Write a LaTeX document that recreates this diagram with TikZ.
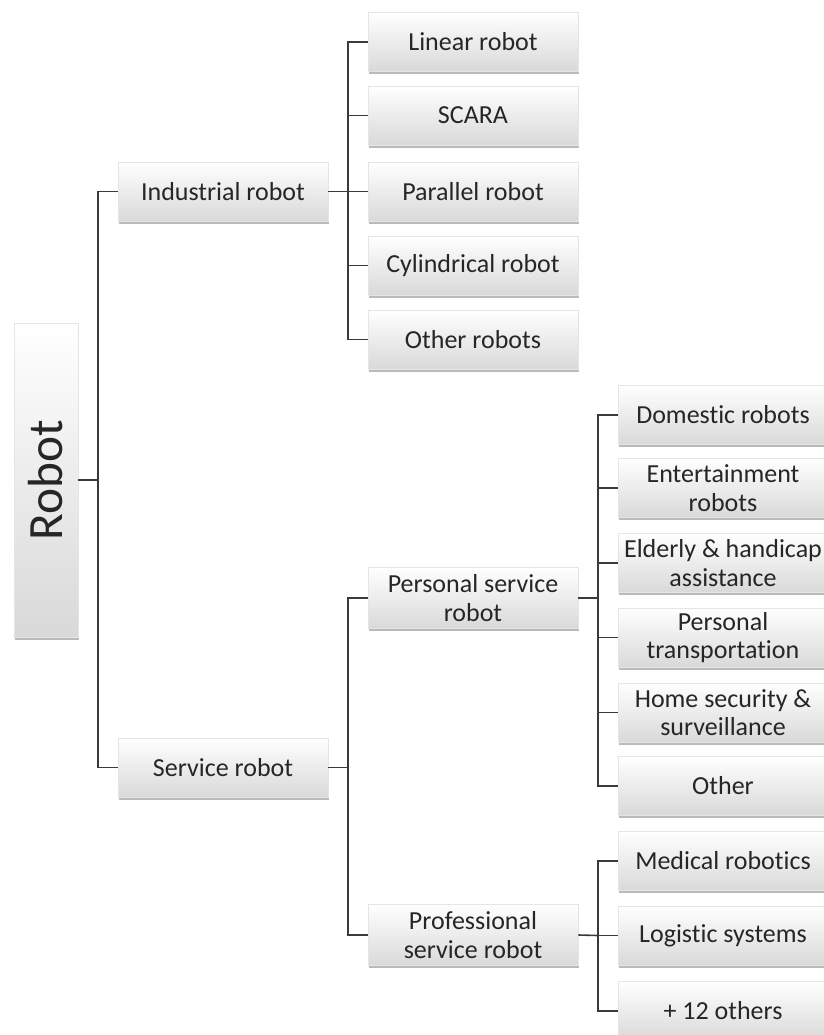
\documentclass[tikz,border=0pt]{standalone}
\usepackage{fontspec}
\setmainfont{Carlito}[Ligatures=NoCommon]
\usepackage{graphicx}
\usetikzlibrary{positioning}
\usetikzlibrary{shadows,calc}
\definecolor{linegray}{HTML}{3A3A3A}
\definecolor{textgray}{HTML}{262626}
\tikzstyle{box} = [rectangle, minimum width=157.5pt, minimum height=44.5pt, align=center, inner sep=1pt, draw=gray!20, top color=white, bottom color=black!15, text=textgray, font=\fontsize{19.5}{21.5}\selectfont, drop shadow={shadow xshift=0.4pt, shadow yshift=-2pt, opacity=0.45, fill=black!60}]
\tikzstyle{link} = [draw=linegray, line width=1.2pt]

\begin{document}
\begin{tikzpicture}[x=0.75pt,y=-0.75pt]
\useasboundingbox (0,0) rectangle (824,1035);

% root
\node[box, minimum width=48pt, minimum height=235.5pt] (robot) at (46,480) {\rotatebox{90}{\fontsize{37}{40}\selectfont Robot}};

% second level
\node[box] (ind) at (223,191.5) {Industrial robot};
\node[box] (srv) at (223,767.5) {Service robot};

% industrial branch
\node[box] (lin) at (473,42) {Linear robot};
\node[box] (scara) at (473,115.5) {SCARA};
\node[box] (par) at (473,191.5) {Parallel robot};
\node[box] (cyl) at (473,265.5) {Cylindrical robot};
\node[box] (oth) at (473,339.5) {Other robots};

% service branch
\node[box, minimum height=46pt] (pers) at (473,598) {Personal service\\robot};
\node[box, minimum height=46pt] (prof) at (473,935) {Professional\\service robot};

% personal service robots
\node[box] (dom) at (723,415) {Domestic robots};
\node[box] (ent) at (723,488) {Entertainment\\robots};
\node[box] (eld) at (723,563) {\makebox[140pt]{Elderly \& handicap}\\assistance};
\node[box] (tra) at (723,637.5) {Personal\\transportation};
\node[box] (sec) at (723,712.5) {Home security \&\\surveillance};
\node[box] (oth2) at (723,786) {Other};

% professional service robots
\node[box] (med) at (723,861) {Medical robotics};
\node[box] (log) at (723,935.5) {Logistic systems};
\node[box] (more) at (723,1011) {+ 12 others};

% junctions
\coordinate (j0) at (98,480);
\coordinate (j1) at (348,191.5);
\coordinate (j2) at (348,767.5);
\coordinate (j3) at (598,598);
\coordinate (j4) at (598,935.5);

% connectors
\draw[link] (robot.east) -- (j0);
\draw[link] (j0) |- (ind.west);
\draw[link] (j0) |- (srv.west);

\draw[link] (ind.east) -- (j1);
\foreach \n in {lin,scara,par,cyl,oth}
  \draw[link] (j1) |- (\n.west);

\draw[link] (srv.east) -- (j2);
\draw[link] (j2) |- (pers.west);
\draw[link] (j2) |- (prof.west);

\draw[link] (pers.east) -- (j3);
\foreach \n in {dom,ent,eld,tra,sec,oth2}
  \draw[link] (j3) |- (\n.west);

\draw[link] (prof.east) -- (j4);
\foreach \n in {med,log,more}
  \draw[link] (j4) |- (\n.west);
\end{tikzpicture}
\end{document}
